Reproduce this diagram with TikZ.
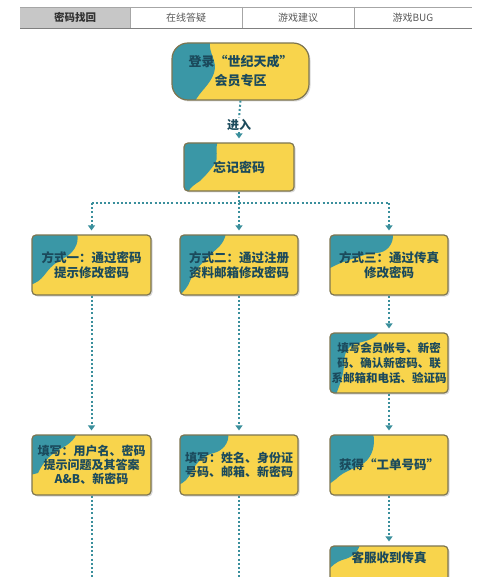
\documentclass[tikz,border=0pt]{standalone}
\usepackage{fontspec}
\setmainfont{Noto Sans CJK SC}
\usetikzlibrary{arrows.meta}
\definecolor{yel}{HTML}{F8D44C}
\definecolor{tealc}{HTML}{3A97A6}
\definecolor{bord}{HTML}{7D7550}
\definecolor{txt}{HTML}{1B4A5C}
\definecolor{connc}{HTML}{3A8F9C}
\newcommand\flowbox[9][]{%
 \fill[black!15, rounded corners=#7pt] (#3-#5/2+1.5,#4-#6/2+1.5) rectangle ++(#5,#6);
 \begin{scope}
  \clip[rounded corners=#7pt] (#3-#5/2,#4-#6/2) rectangle ++(#5,#6);
  \fill[yel] (#3-#5/2,#4-#6/2) rectangle ++(#5,#6);
  \begin{scope}[shift={(#3-#5/2,#4-#6/2)}]
   \fill[tealc] #8;
  \end{scope}
 \end{scope}
 \node[flow, minimum width=#5pt, minimum height=#6pt, rounded corners=#7pt, #1] (#2) at (#3,#4) {#9};
}
\begin{document}
\begin{tikzpicture}[x=1pt,y=-1pt,
 flow/.style={draw=bord, line width=1.2pt, align=center, text=txt, inner sep=0pt,
   font=\fontsize{12.5}{15.5}\selectfont\bfseries},
 tab/.style={font=\fontsize{10}{12}\selectfont, text=black!65, inner sep=0pt},
 connl/.style={draw=connc, line width=2pt, dash pattern=on 2pt off 2.2pt},
 arr/.style={connl, -{Triangle[width=7pt,length=5pt]}, shorten >=4pt}]
\useasboundingbox (0,0) rectangle (500,577);
\clip (0,0) rectangle (500,577);
\fill[white] (0,0) rectangle (500,577);
% tab bar
\fill[black!22] (20,7) rectangle (130,28);
\draw[black!35] (20,7) -- (472,7);
\draw[black!50] (20,28) -- (472,28);
\draw[black!35] (130,7) -- (130,28) (242,7) -- (242,28) (354,7) -- (354,28);
\node[tab, text=black!80, font=\fontsize{10.5}{12}\selectfont\bfseries] (t1) at (75,17.5) {密码找回};
\node[tab] (t2) at (186,17.5) {在线答疑};
\node[tab] (t3) at (298,17.5) {游戏建议};
\node[tab] (t4) at (413,17.5) {游戏BUG};
% boxes
\flowbox[font=\fontsize{13}{19}\selectfont\bfseries]{B1}{240.5}{71.5}{137}{57}{16}{(-2,-2) -- (38,-2) .. controls (36,10) and (46,18) .. (42,30) .. controls (38,42) and (28,48) .. (22,60) -- (-2,60) -- cycle}
 {登录“世纪天成”\\会员专区}
\flowbox[font=\fontsize{13}{16}\selectfont\bfseries]{B2}{239}{167}{110}{48}{4}{(-2,-2) -- (34,-2) .. controls (30,8) and (36,14) .. (30,22) .. controls (24,30) and (20,34) .. (16,38) .. controls (10,42) and (6,44) .. (4,50) -- (-2,50) -- cycle}
 {忘记密码}
\flowbox{A1}{91.5}{265}{119}{60}{4}{(-2,-2) -- (45,-2) .. controls (48,10) and (40,18) .. (34,22) .. controls (26,26) and (20,30) .. (14,38) .. controls (8,46) and (4,48) .. (-2,50) -- cycle}
 {方式一：通过密码\\提示修改密码}
\flowbox{M1}{239}{265}{118}{60}{4}{(-2,-2) -- (46,-2) .. controls (44,10) and (36,14) .. (30,20) .. controls (22,28) and (14,36) .. (10,46) .. controls (8,52) and (4,56) .. (-2,62) -- cycle}
 {方式二：通过注册\\资料邮箱修改密码}
\flowbox{C1}{389}{265}{118}{60}{4}{(-2,-2) -- (63,-2) .. controls (64,10) and (56,18) .. (46,18) .. controls (36,18) and (30,22) .. (22,24) .. controls (12,27) and (6,30) .. (-2,34) -- cycle}
 {方式三：通过传真\\修改密码}
\flowbox[font=\fontsize{11.5}{15}\selectfont\bfseries]{C2}{389}{363}{118}{60}{4}{(-2,-2) -- (50,-2) .. controls (46,6) and (36,8) .. (28,10) .. controls (18,12) and (14,20) .. (14,30) .. controls (14,42) and (10,50) .. (6,62) -- (-2,62) -- cycle}
 {填写会员帐号、新密\\码、确认新密码、联\\系邮箱和电话、验证码}
\flowbox[font=\fontsize{12}{14}\selectfont\bfseries]{A3}{91.5}{465}{119}{60}{4}{(-2,-2) -- (45,-2) .. controls (40,10) and (30,12) .. (22,18) .. controls (14,24) and (10,30) .. (6,38) -- (-2,40) -- cycle}
 {填写：用户名、密码\\提示问题及其答案\\A\&B、新密码}
\flowbox[font=\fontsize{12}{14}\selectfont\bfseries]{M3}{239}{465}{118}{60}{4}{(-2,-2) -- (48,-2) .. controls (50,8) and (42,16) .. (34,18) .. controls (24,20) and (16,28) .. (12,36) .. controls (8,44) and (4,48) .. (-2,50) -- cycle}
 {填写：姓名、身份证\\号码、邮箱、新密码}
\flowbox{C3}{389}{465}{118}{60}{4}{(-2,-2) -- (43,-2) .. controls (46,10) and (42,22) .. (34,28) .. controls (24,34) and (14,36) .. (6,44) -- (-2,50) -- cycle}
 {获得“工单号码”}
\flowbox{C4}{389}{590}{118}{88}{4}{(-2,-2) -- (30,-2) .. controls (28,8) and (20,12) .. (12,14) .. controls (6,16) and (2,20) .. (-2,24) -- cycle}
 {客服收到传真\\[50pt]}
% connectors
\node[flow, draw=none, fill=white, inner sep=1pt, font=\fontsize{12}{14}\selectfont\bfseries] (lab) at (239,125) {进入};
\draw[connl] (B1.south) -- (lab.north);
\draw[arr] (lab.south) -- (B2.north);
\coordinate (fork) at (239,203);
\draw[connl] (B2.south) -- (fork);
\draw[connl] (A1.north |- fork) -- (C1.north |- fork);
\draw[arr] (A1.north |- fork) -- (A1.north);
\draw[arr] (fork) -- (M1.north);
\draw[arr] (C1.north |- fork) -- (C1.north);
\draw[arr] (A1.south) -- (A3.north);
\draw[arr] (M1.south) -- (M3.north);
\draw[arr] (C1.south) -- (C2.north);
\draw[arr] (C2.south) -- (C3.north);
\draw[arr] (C3.south) -- (C4.north);
\coordinate (bot) at (0,585);
\draw[connl] (A3.south) -- (A3.south |- bot);
\draw[connl] (M3.south) -- (M3.south |- bot);
\end{tikzpicture}
\end{document}
